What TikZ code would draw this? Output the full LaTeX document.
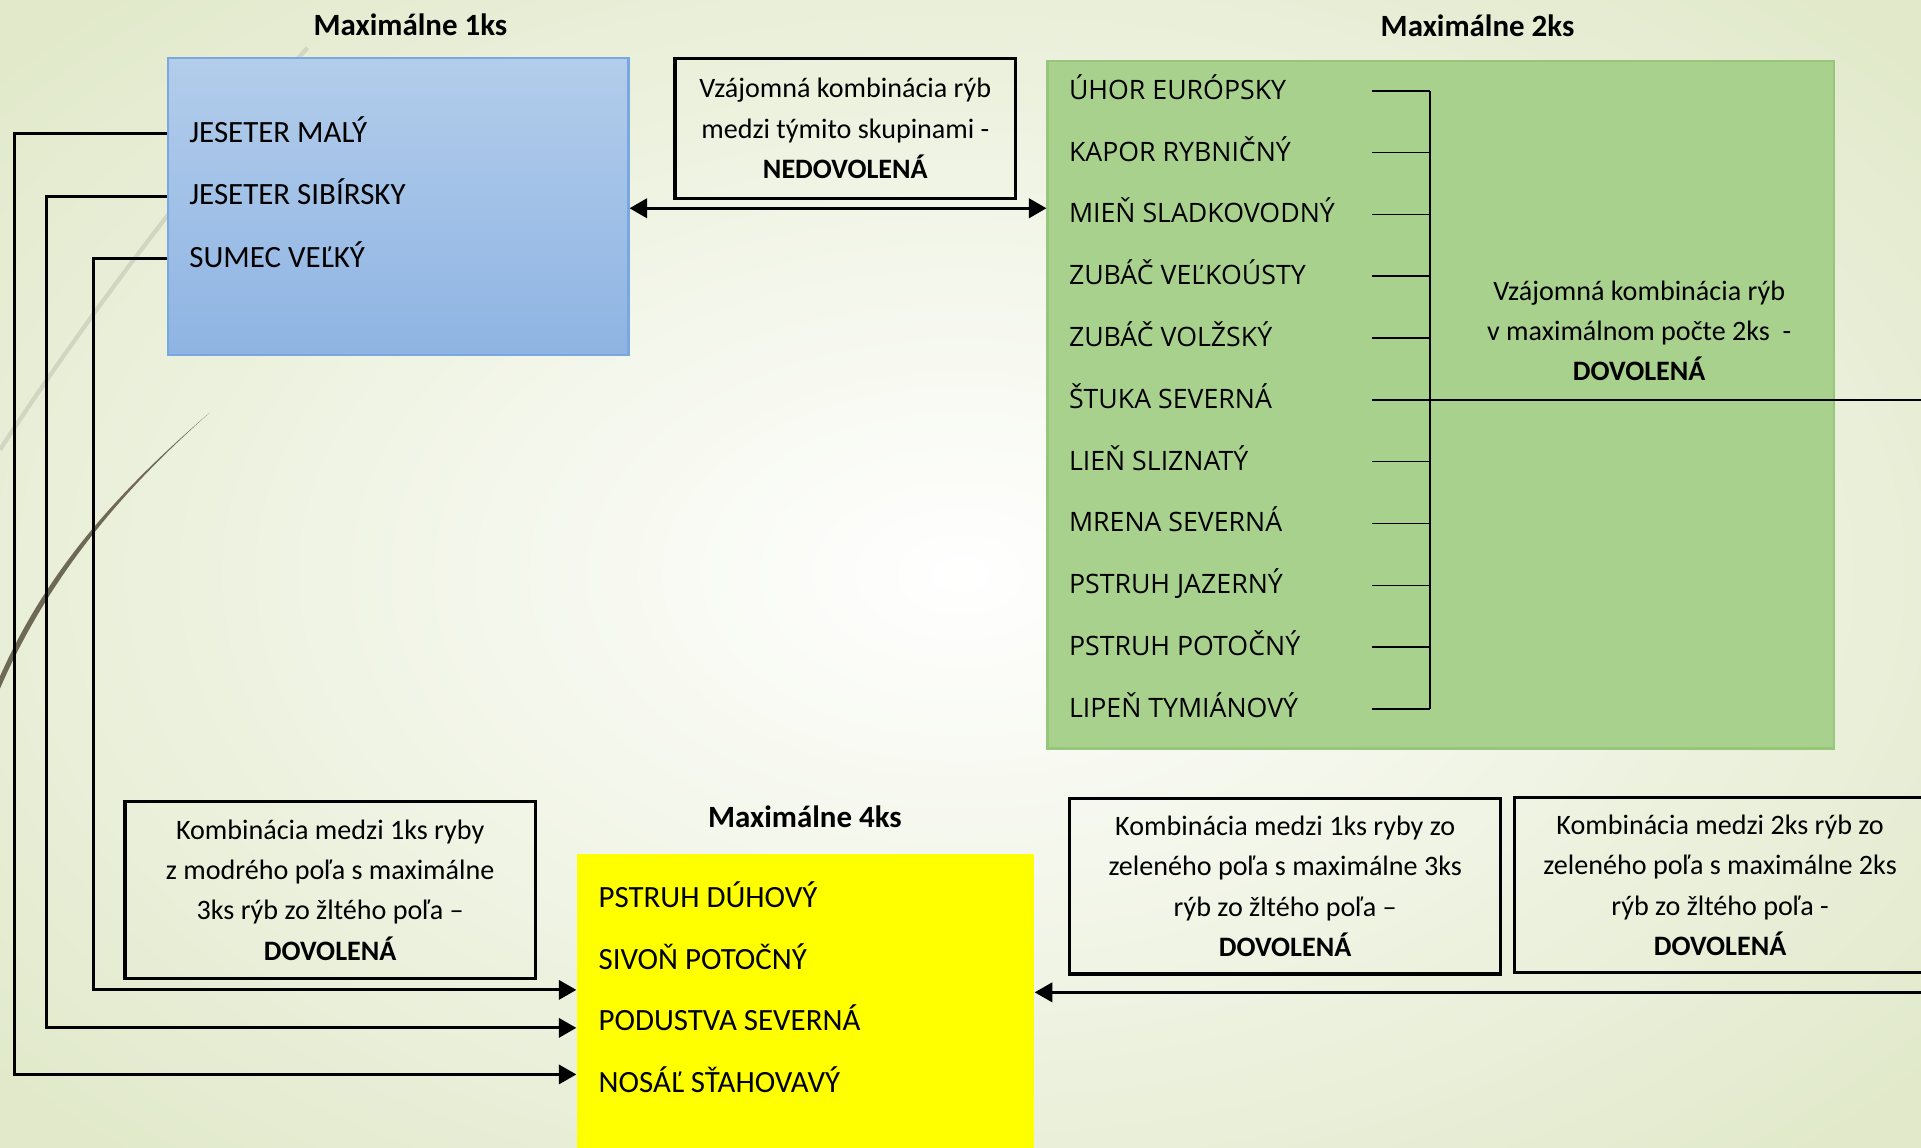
\documentclass[tikz,border=0pt]{standalone}
\usepackage{fontspec}
\setmainfont{Carlito}
\newfontfamily\itemfont{Open Sans}
\usepackage{xcolor}
\usetikzlibrary{arrows.meta,positioning}

\definecolor{bgout}{HTML}{E1E9CA}
\definecolor{bluetop}{HTML}{B3CDEB}
\definecolor{bluebot}{HTML}{8EB4E3}
\definecolor{blueline}{HTML}{79A7DF}
\definecolor{greenfill}{HTML}{A9D18E}
\definecolor{greenline}{HTML}{97C67A}
\definecolor{yellowfill}{HTML}{FFFF00}
\definecolor{grasslight}{HTML}{D2D5C1}
\definecolor{grassdark}{HTML}{6E6955}
\newcommand{\upx}{0.01225cm}

\begin{document}
\begin{tikzpicture}[x=0.01225cm, y=-0.01225cm,
  title/.style={font=\fontsize{8.8}{10}\selectfont\bfseries},
  fish/.style={anchor=base west, inner sep=0pt, font=\fontsize{8.8}{10}\selectfont},
  gfish/.style={anchor=base west, inner sep=0pt, font=\itemfont\fontsize{7.6}{9}\selectfont},
  rule/.style={draw, line width=0.9pt, align=center, inner sep=0pt, font=\fontsize{8}{11.5}\selectfont},
  link/.style={line width=0.8pt, -{Triangle[length=5pt, width=5.5pt]}},
  tick/.style={line width=0.45pt}]
\useasboundingbox (0,0) rectangle (1568,937);
\clip (0,0) rectangle (1568,937);
% background
\shade[inner color=white, outer color=bgout] (-250,-180) rectangle (1818,1117);
\draw[grasslight, line width=1.2pt] (251,39) .. controls (160,140) and (70,260) .. (0,367);
\fill[grassdark] (171,337) .. controls (100,400) and (40,470) .. (0,562)
  -- (0,552) .. controls (40,462) and (100,398) .. cycle;

% the three groups
\node[draw=blueline, line width=0.6pt, top color=bluetop, bottom color=bluebot,
  minimum width=376*\upx, minimum height=243*\upx, inner sep=0pt] (blue) at (325,168.5) {};
\node[draw=greenline, line width=0.6pt, fill=greenfill,
  minimum width=642*\upx, minimum height=561*\upx, inner sep=0pt] (green) at (1176,330.5) {};
\node[fill=yellowfill, minimum width=373*\upx, minimum height=270*\upx, inner sep=0pt] (yellow) at (657.5,832) {};

\node[title] (t1) at (335,20) {Maximálne 1ks};
\node[title] (t2) at (1206,21) {Maximálne 2ks};
\node[title] (t4) at (657,667) {Maximálne 4ks};

% blue
\node[fish] (jm) at (154,116) {JESETER MALÝ};
\node[fish] (js) at (154,167) {JESETER SIBÍRSKY};
\node[fish] (sv) at (154,218) {SUMEC VEĽKÝ};

% yellow
\node[fish] (pd) at (488,741) {PSTRUH DÚHOVÝ};
\node[fish] (sp) at (488,791) {SIVOŇ POTOČNÝ};
\node[fish] (ps) at (488,841) {PODUSTVA SEVERNÁ};
\node[fish] (ns) at (488,892) {NOSÁĽ SŤAHOVAVÝ};

% green
\foreach \name [count=\i] in {ÚHOR EURÓPSKY, KAPOR RYBNIČNÝ, MIEŇ SLADKOVODNÝ,
  ZUBÁČ VEĽKOÚSTY, ZUBÁČ VOLŽSKÝ, ŠTUKA SEVERNÁ, LIEŇ SLIZNATÝ,
  MRENA SEVERNÁ, PSTRUH JAZERNÝ, PSTRUH POTOČNÝ, LIPEŇ TYMIÁNOVÝ}
  \node[gfish] (g\i) at (872,{81+50.45*(\i-1)}) {\name};
\foreach \i in {1,...,11}
  \draw[tick] (1120,0 |- g\i.mid) -- (1167,0 |- g\i.mid);
\draw[tick] (1167,0 |- g1.mid) -- (1167,0 |- g11.mid);
\draw[tick] (1167,0 |- g6.mid) -- (1600,0 |- g6.mid);

\node[font=\fontsize{8}{11.5}\selectfont, align=center] (gtxt) at (1338,270)
  {Vzájomná kombinácia rýb\\ v maximálnom počte 2ks~ -\\ \textbf{DOVOLENÁ}};

% rules
\node[rule, minimum width=278*\upx, minimum height=114*\upx] (nedov) at (690,105)
  {Vzájomná kombinácia rýb\\ medzi týmito skupinami -\\ \textbf{NEDOVOLENÁ}};
\node[rule, minimum width=335*\upx, minimum height=145*\upx] (modra) at (269.5,726.5)
  {Kombinácia medzi 1ks ryby\\ z modrého poľa s maximálne\\ 3ks rýb zo žltého poľa –\\ \textbf{DOVOLENÁ}};
\node[rule, minimum width=352*\upx, minimum height=143*\upx, text depth=0pt] (zelena1) at (1049,723.5)
  {Kombinácia medzi 1ks ryby zo\\ zeleného poľa s maximálne 3ks\\ rýb zo žltého poľa –\\ \textbf{DOVOLENÁ}};
\node[rule, minimum width=336*\upx, minimum height=143*\upx, text depth=0pt] (zelena2) at (1404,722.5)
  {Kombinácia medzi 2ks rýb zo\\ zeleného poľa s maximálne 2ks\\ rýb zo žltého poľa -\\ \textbf{DOVOLENÁ}};

% arrows
\draw[line width=0.9pt, {Triangle[length=5pt, width=5.5pt]}-{Triangle[length=5pt, width=5.5pt]}]
  (blue.east |- 0,170) -- (green.west |- 0,170);
\draw[link] (blue.west |- jm.mid) -| (12,877) -- (yellow.west |- 0,877);
\draw[link] (blue.west |- js.mid) -| (38,839) -- (yellow.west |- 0,839);
\draw[link] (blue.west |- sv.mid) -| (76,808) -- (yellow.west |- 0,808);
\coordinate (offr) at (1600,810);
\draw[link] (offr) -- (yellow.east |- offr);
\end{tikzpicture}
\end{document}
